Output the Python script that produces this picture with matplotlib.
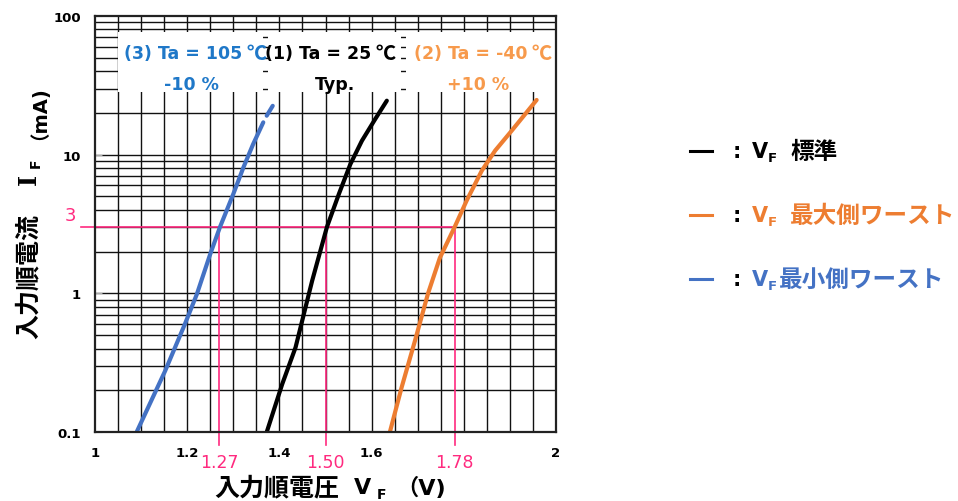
import numpy as np
import matplotlib
matplotlib.use('Agg')
import matplotlib.pyplot as plt
from matplotlib.patches import Rectangle

plt.rcParams['font.family'] = ['DejaVu Sans', 'Noto Sans CJK JP']

vf_typ = [1.373, 1.406, 1.435, 1.453, 1.471, 1.503, 1.529, 1.554, 1.579, 1.608, 1.633]
if_typ = [0.101, 0.221, 0.407, 0.708, 1.23, 3.0, 5.2, 8.55, 12.6, 18.1, 24.5]

vf_max = [1.640, 1.665, 1.694, 1.7225, 1.748, 1.780, 1.806, 1.839, 1.868, 1.904, 1.958]
if_max = [0.101, 0.209, 0.454, 1.0, 1.80, 3.0, 4.65, 7.66, 10.7, 14.9, 24.8]

vf_min = [1.091, 1.152, 1.195, 1.221, 1.250, 1.271, 1.300, 1.322, 1.343, 1.365]
if_min = [0.101, 0.275, 0.600, 0.987, 1.92, 3.0, 5.2, 8.1, 11.9, 17.1]
vf_min_tail = [1.3725, 1.3855]
if_min_tail = [19.1, 22.5]

# Punto de referencia IF = 3 mA
if_ref = 3
vf_refs = [1.27, 1.50, 1.78]
vf_ref_labels = ['1.27', '1.50', '1.78']

xticks = [1, 1.2, 1.4, 1.6, 2]
xtick_labels = ['1', '1.2', '1.4', '1.6', '2']
yticks = [0.1, 1, 10, 100]
ytick_labels = ['0.1', '1', '10', '100']

BLACK = '#000000'
ORANGE = '#ED7D31'
BLUE = '#4472C4'
PINK = '#FF2A7F'
BLUE_TXT = '#1F78C8'
ORANGE_TXT = '#F79A4C'

W, H = 958, 502
fig = plt.figure(figsize=(W / 100, H / 100), dpi=100)


def px(x, y):
    return x / W, 1 - y / H


ax = fig.add_axes([95 / W, 1 - 433 / H, 461 / W, 416 / H])
ax.set_yscale('log')
ax.set_xlim(1, 2)
ax.set_ylim(0.1, 100)

# rejilla
for v in np.arange(1.05, 2.0, 0.05):
    ax.axvline(v, color='#111111', lw=1.0, zorder=1)
for dec in [0.1, 1, 10]:
    for m in range(1, 10):
        ax.axhline(dec * m, color='#111111', lw=1.0, zorder=1)

# cajas blancas de las anotaciones
for x0, x1 in [(0.05, 0.364), (0.375, 0.664), (0.675, 0.998)]:
    ax.add_patch(Rectangle((x0, 0.817), x1 - x0, 0.145, transform=ax.transAxes,
                           facecolor='white', edgecolor='none', zorder=2))

ax.plot(vf_min, if_min, color=BLUE, lw=3, zorder=4, solid_capstyle='round')
ax.plot(vf_min_tail, if_min_tail, color=BLUE, lw=3, zorder=4, solid_capstyle='round')
ax.plot(vf_typ, if_typ, color=BLACK, lw=3, zorder=4, solid_capstyle='round')
ax.plot(vf_max, if_max, color=ORANGE, lw=3, zorder=4, solid_capstyle='round')

# líneas rosas
ax.plot([0.9696, max(vf_refs)], [if_ref, if_ref], color=PINK, lw=1.2, zorder=3, clip_on=False)
for v in vf_refs:
    ax.plot([v, v], [if_ref, 0.0803], color=PINK, lw=1.2, zorder=3, clip_on=False)

ax.set_xticks(xticks)
ax.set_xticklabels(xtick_labels, fontsize=9.5, fontweight='bold')
ax.set_yticks(yticks)
ax.set_yticklabels(ytick_labels, fontsize=9.5, fontweight='bold')
ax.yaxis.set_minor_locator(matplotlib.ticker.NullLocator())
ax.tick_params(axis='x', length=0, pad=10)
ax.tick_params(axis='y', direction='in', length=5, color='#aaaaaa', pad=10)
for s in ax.spines.values():
    s.set_linewidth(1.6)
    s.set_color('#222222')
    s.set_zorder(5)

# anotaciones de temperatura
bold = dict(fontweight='bold', va='center')
cjk = dict(fontsize=14.5, ha='left', family='Noto Sans CJK JP')
fig.text(*px(242, 54), '(3) Ta = 105', color=BLUE_TXT, fontsize=12.5, ha='right', **bold)
fig.text(*px(246, 53), '℃', color=BLUE_TXT, **cjk, **bold)
fig.text(*px(191, 85), '-10 %', color=BLUE_TXT, fontsize=12.5, ha='center', **bold)
fig.text(*px(371, 54), '(1) Ta = 25', color=BLACK, fontsize=12.5, ha='right', **bold)
fig.text(*px(375, 53), '℃', color=BLACK, **cjk, **bold)
fig.text(*px(335, 85), 'Typ.', color=BLACK, fontsize=12.5, ha='center', **bold)
fig.text(*px(527, 54), '(2) Ta = -40', color=ORANGE_TXT, fontsize=12.5, ha='right', **bold)
fig.text(*px(531, 53), '℃', color=ORANGE_TXT, **cjk, **bold)
fig.text(*px(478, 85), '+10 %', color=ORANGE_TXT, fontsize=12.5, ha='center', **bold)

# etiquetas rosas
fig.text(*px(70, 216), '3', color=PINK, fontsize=13, ha='center', va='center')
for v, lab in zip(vf_refs, vf_ref_labels):
    xp = 95 + (v - 1) * 461
    fig.text(*px(xp, 463), lab, color=PINK, fontsize=12.5, ha='center', va='center')

# título eje X
fig.text(*px(277, 488), '入力順電圧', fontsize=18, fontweight='bold', ha='center', va='center')
fig.text(*px(363, 488), 'V', fontsize=16, fontweight='bold', ha='center', va='center')
fig.text(*px(381, 495), 'F', fontsize=10, fontweight='bold', ha='center', va='center')
fig.text(*px(421, 488), '（V)', fontsize=16, fontweight='bold', ha='center', va='center')

# título eje Y
fig.text(*px(29, 277), '入力順電流', fontsize=18, fontweight='bold', ha='center', va='center', rotation=90)
fig.text(*px(29, 179), 'I', fontsize=17, fontweight='bold', ha='center', va='center', rotation=90,
         family='DejaVu Serif')
fig.text(*px(36, 163), 'F', fontsize=10, fontweight='bold', ha='center', va='center', rotation=90)
fig.text(*px(29, 108), '（mA)', fontsize=14, fontweight='bold', ha='center', va='center', rotation=90)

# leyenda
rows = [(152, BLACK, '標準', 790), (216, ORANGE, '最大側ワースト', 790), (280, BLUE, '最小側ワースト', 779)]
for y, c, lab, xl in rows:
    fig.add_artist(plt.Line2D([690 / W, 712 / W], [1 - y / H, 1 - y / H], color=c, lw=2.2))
    fig.text(*px(737, y), ':', fontsize=15, fontweight='bold', ha='center', va='center')
    fig.text(*px(760, y), 'V', fontsize=15, fontweight='bold', ha='center', va='center', color=c)
    fig.text(*px(772, y + 7), 'F', fontsize=9.5, fontweight='bold', ha='center', va='center', color=c)
    fig.text(*px(xl, y), lab, fontsize=17, fontweight='bold', ha='left', va='center', color=c)

fig.savefig('out.png', dpi=100)
